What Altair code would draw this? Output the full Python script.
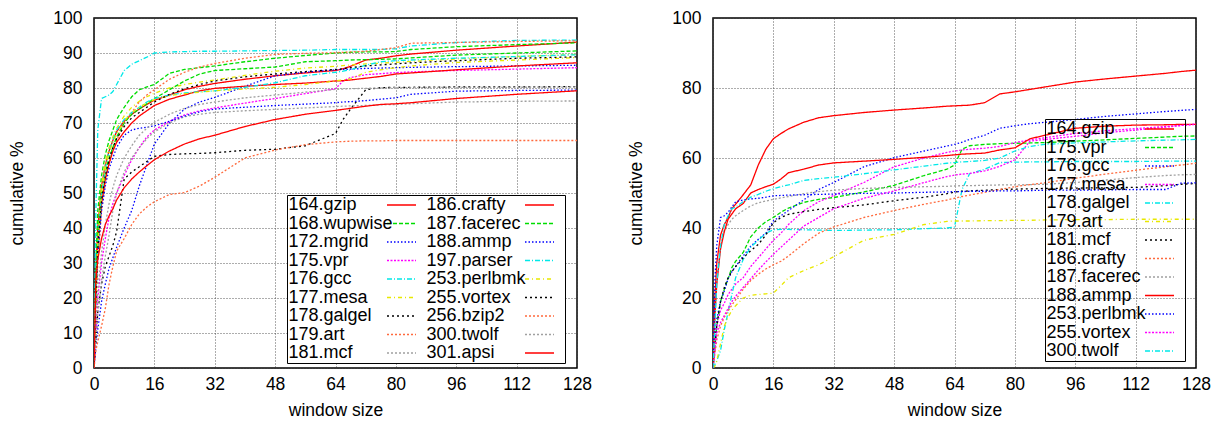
import altair as alt
import pandas as pd

# ---------------- left panel ----------------
LX = [0, 0.5, 1, 2, 3, 4, 5, 6, 8, 10, 12, 14, 16, 20, 24, 28, 32, 40, 48, 56,
      64, 66, 68, 72, 76, 80, 84, 96, 112, 128]

L_GZIP = [0, 28, 40, 52, 58, 62, 65, 67.5, 70.5, 72.5, 74, 75.3, 76.5, 78, 79.5, 80.5, 81.3, 82.5, 83.5, 84.3, 85, 85.5, 86.2, 88, 88.5, 89.2, 89.7, 90.8, 92, 93.1]
L_WUPWISE = [0, 30, 45, 55, 61, 65, 68, 71, 74.5, 77.5, 79.5, 80.3, 81, 84.2, 85.3, 85.8, 86.3, 87.5, 88.5, 89.3, 90, 90.1, 90.2, 90.3, 90.3, 90.4, 91, 91.8, 92.4, 92.9]
L_MGRID = [0, 6, 11, 19, 24, 28.5, 31.5, 34.5, 40, 45, 52, 58, 64, 70, 74, 76, 77.3, 80.5, 83.5, 84.5, 85.2, 85.3, 85.4, 85.6, 85.7, 85.8, 85.9, 86.1, 86.3, 86.5]
L_VPR = [0, 10, 20, 30, 37, 43, 47, 50, 55, 59.5, 63, 66, 68, 70.5, 72.3, 73.5, 74.3, 75.7, 77, 78.4, 79.8, 82, 83, 83.8, 84.1, 84.4, 84.6, 85, 85.4, 85.8]
L_GCC = [0, 45, 68, 77, 77.5, 78, 79, 81, 85, 86.8, 87.8, 88.8, 90, 90.3, 90.4, 90.5, 90.5, 90.6, 90.7, 90.8, 91, 91, 91, 91, 91, 91.2, 92, 93, 93.6, 93.7]
L_MESA = [0, 22, 38, 52, 59, 63, 66, 68.5, 72, 74.5, 76.2, 77.5, 78.5, 80, 81, 81.7, 82.3, 83.6, 84.8, 85.7, 86.2, 86.4, 86.6, 86.9, 87.1, 87.3, 87.6, 88.3, 89, 89.6]
L_GALGEL = [0, 8, 16, 24, 29, 32, 35, 39, 54, 56, 57.5, 59, 60.5, 61, 61.2, 61.3, 61.5, 62.2, 62.5, 63.5, 67, 71, 74, 79.5, 80.1, 80.2, 80.2, 80.3, 80.3, 80.4]
L_ART = [0, 15, 30, 45, 53, 58, 62, 65, 70, 73, 76, 78, 79.5, 82.5, 84.5, 86, 87, 88.5, 89.6, 89.9, 90.1, 90.2, 90.3, 90.5, 91, 91.5, 92.8, 93, 93.3, 93.5]
L_MCF = [0, 8, 15, 25, 32, 38, 45, 50, 56, 60, 63, 65.5, 67.5, 70, 71.8, 72.5, 73, 73.5, 73.9, 74.3, 74.7, 74.8, 74.9, 75, 75.2, 75.3, 75.5, 76, 76.2, 76.3]
L_CRAFTY = [0, 25, 36, 47, 54, 58.5, 62, 64.5, 67.5, 70, 72, 73.5, 75, 76.8, 78, 79.2, 79.9, 80.5, 81, 81.4, 82, 82.1, 82.3, 82.8, 83.3, 84, 84.3, 85.2, 86.3, 87.2]
L_FACEREC = [0, 25, 38, 50, 56, 60, 63, 66, 70, 72.5, 74, 75.5, 77, 79.5, 82, 84, 85, 85.5, 86, 87.5, 87.8, 87.9, 88, 88.1, 88.2, 88.3, 88.6, 89.4, 90, 90.6]
L_AMMP = [0, 20, 32, 45, 52, 57, 60, 63, 66.5, 68, 68.5, 68.8, 69.2, 70.5, 72, 73.2, 74, 74.5, 75, 75.4, 75.8, 76, 76.1, 76.4, 76.8, 77.2, 78.2, 79.1, 79.3, 79.4]
L_PARSER = [0, 20, 35, 50, 57, 62, 65, 68, 71, 73, 74.5, 76, 77, 78, 78.6, 78.9, 79.2, 80.2, 81.5, 83.5, 84.5, 84.8, 85.2, 86.5, 87.5, 87.8, 88, 88.5, 89, 89.5]
L_PERLBMK = [0, 20, 35, 50, 57, 61.5, 64.5, 67, 70.5, 73, 74.5, 75.7, 76.7, 77.8, 78.4, 78.8, 79.2, 79.7, 80.2, 81, 82, 82.3, 82.6, 84.5, 85.2, 85.8, 86.3, 87.3, 88, 88.7]
L_VORTEX = [0, 20, 34, 48, 55, 59.5, 63, 65.5, 69, 71.5, 73, 74.5, 76, 78.2, 79.8, 81, 82, 83.2, 84, 84.7, 85.3, 85.5, 85.8, 86.3, 86.6, 86.9, 87.2, 87.8, 88.5, 88.9]
L_BZIP2 = [0, 5, 7.5, 12, 17, 24, 29, 33.4, 37, 41, 44, 46, 47.5, 49.6, 50.1, 52, 54.5, 60, 62.3, 63.8, 64.6, 64.7, 64.8, 64.9, 64.9, 65, 65, 65, 65, 65]
L_TWOLF = [0, 12, 22, 33, 41, 47, 51.5, 55, 60, 63.5, 66.5, 68.5, 70.2, 72.5, 74.2, 75.3, 76, 77.2, 78, 78.8, 79.6, 79.7, 79.8, 79.9, 80, 80.1, 80.1, 80.2, 80.2, 80.3]
L_APSI = [0, 25, 31, 37, 41, 43.5, 45.5, 48, 51.5, 54, 56, 57.8, 59.5, 62, 64, 65.5, 66.5, 69, 71, 72.5, 73.6, 73.9, 74.2, 74.8, 75.3, 75.5, 75.8, 77, 78.2, 79.2]

LEFT_NAMES = ["164.gzip", "168.wupwise", "172.mgrid", "175.vpr", "176.gcc",
              "177.mesa", "178.galgel", "179.art", "181.mcf", "186.crafty",
              "187.facerec", "188.ammp", "197.parser", "253.perlbmk",
              "255.vortex", "256.bzip2", "300.twolf", "301.apsi"]
LEFT_SERIES = [L_GZIP, L_WUPWISE, L_MGRID, L_VPR, L_GCC, L_MESA, L_GALGEL,
               L_ART, L_MCF, L_CRAFTY, L_FACEREC, L_AMMP, L_PARSER,
               L_PERLBMK, L_VORTEX, L_BZIP2, L_TWOLF, L_APSI]

# ---------------- right panel ----------------
RX = [0, 0.5, 1, 2, 3, 4, 5, 6, 8, 10, 12, 14, 16, 18, 20, 24, 28, 32, 40, 48,
      56, 62, 64, 66, 68, 72, 76, 80, 84, 88, 96, 104, 112, 120, 124, 128]

R_GZIP = [0, 20, 30, 38, 41, 43, 45.5, 46.8, 49.5, 52.3, 58, 62.5, 65.5, 67, 68.3, 70.2, 71.5, 72.1, 73, 73.7, 74.3, 74.8, 74.9, 75, 75.1, 75.8, 78.3, 78.9, 79.6, 80.3, 81.7, 82.6, 83.4, 84.2, 84.7, 85.1]
R_VPR = [0, 6, 12, 19, 22.5, 25.5, 28.7, 30.5, 33, 37.5, 40, 41.8, 43, 44.5, 45.7, 47.3, 48.2, 48.7, 50.3, 52.2, 55, 56.8, 58, 62.5, 63.5, 63.9, 64.1, 64.2, 64.3, 64.4, 64.8, 65.2, 65.6, 66, 66.2, 66.3]
R_GCC = [0, 8, 14, 19, 22, 25.5, 27.5, 29, 32, 34.8, 36.8, 38.5, 42, 43.5, 45, 48, 51, 53, 57.5, 60.1, 62, 63.4, 63.9, 64.5, 65.3, 66.5, 68.5, 69.2, 69.8, 70.2, 71, 71.9, 72.6, 73.3, 73.6, 73.9]
R_MESA = [0, 6, 12, 16.5, 18.5, 21, 22.5, 24, 25.8, 29, 31.5, 34, 36.5, 38.5, 41, 44.9, 47.5, 49.3, 53, 57.5, 60, 61.6, 62, 62.3, 62.5, 62.8, 63.3, 64.4, 65.2, 65.8, 67, 67.8, 68.4, 69, 69.3, 69.6]
R_GALGEL = [0, 1, 2, 5, 11, 16, 21, 25.8, 31, 34.5, 36.5, 38.5, 39.5, 39.6, 39.6, 39.5, 39.4, 39.3, 39.4, 39.5, 39.8, 40, 40.3, 51, 55.5, 56.8, 58.7, 58.8, 58.9, 58.9, 59, 59, 59, 59.1, 59.1, 59.1]
R_ART = [0, 0.5, 2, 7, 12, 14.5, 16.5, 17.8, 20, 20.8, 21, 21.2, 21.4, 23.5, 25.8, 27.8, 29.5, 31.8, 36.5, 38.2, 41, 41.9, 42, 42, 42, 42.1, 42.1, 42.2, 42.2, 42.3, 42.4, 42.4, 42.5, 42.5, 42.5, 42.5]
R_MCF = [0, 6, 12, 19, 23, 25.8, 27.5, 29, 31.5, 33.5, 35.3, 38, 41.5, 43, 43.9, 44.7, 45.3, 45.8, 46.6, 47.8, 48.8, 49.8, 50.3, 50.5, 50.6, 50.8, 51, 51.1, 51.2, 51.3, 51.4, 51.5, 51.6, 52.1, 52.5, 52.7]
R_CRAFTY = [0, 4, 8, 12, 14.5, 16.3, 18, 19.5, 22.5, 25, 26.8, 28.3, 29.5, 30.5, 32, 35.5, 38.5, 40.3, 43, 45, 46.8, 48, 48.5, 49, 49.4, 50.2, 51, 51.8, 52.4, 52.9, 54.2, 55.4, 56.5, 57.5, 58, 58.5]
R_FACEREC = [0, 15, 25, 35, 39, 41, 42.5, 43.5, 45, 46.3, 47.2, 47.7, 48.2, 48.6, 49, 49.8, 50.4, 50.8, 51.3, 51.6, 51.8, 51.9, 52, 52.1, 52.1, 52.2, 52.3, 52.3, 52.4, 52.5, 53, 53.7, 54.4, 55, 55.2, 55.3]
R_AMMP = [0, 15, 24, 34, 39, 42.5, 44, 45.5, 47, 50, 51, 51.8, 52.5, 54, 55.8, 56.8, 58, 58.6, 59.1, 59.6, 60.2, 60.7, 60.9, 61.1, 61.2, 61.4, 62.3, 62.9, 65.5, 66.5, 68.5, 69.1, 69.4, 69.5, 69.6, 69.6]
R_PERLBMK = [0, 25, 35, 43, 43.5, 44.5, 46, 47.5, 48, 48.3, 48.5, 48.8, 49.2, 49.3, 49.4, 49.5, 49.6, 49.7, 49.9, 50, 50.2, 50.3, 50.4, 50.4, 50.5, 50.5, 50.6, 50.6, 50.7, 50.8, 50.8, 50.9, 51, 51, 52.8, 52.9]
R_VORTEX = [0, 5, 10, 13, 15, 17, 19, 20.5, 23, 25.5, 28, 30.3, 32.5, 34.5, 36.5, 40.5, 43, 45.5, 48.5, 50.6, 53, 54.7, 55.1, 55.4, 55.6, 56.3, 57.6, 59.5, 64.8, 65.3, 66.2, 67.2, 68, 68.8, 69.3, 69.7]
R_TWOLF = [0, 12, 24, 35, 41, 43.5, 45.5, 46, 47.5, 48.8, 49.6, 50.5, 51.2, 51.8, 52.3, 53.6, 54.1, 54.5, 55.5, 56.6, 57.7, 58.5, 58.7, 58.9, 59, 59.3, 60, 62, 63.3, 63.9, 64.3, 64.6, 64.9, 65.1, 65.2, 65.3]

RIGHT_NAMES = ["164.gzip", "175.vpr", "176.gcc", "177.mesa", "178.galgel",
               "179.art", "181.mcf", "186.crafty", "187.facerec", "188.ammp",
               "253.perlbmk", "255.vortex", "300.twolf"]
RIGHT_SERIES = [R_GZIP, R_VPR, R_GCC, R_MESA, R_GALGEL, R_ART, R_MCF,
                R_CRAFTY, R_FACEREC, R_AMMP, R_PERLBMK, R_VORTEX, R_TWOLF]

X_TICKS = [0, 16, 32, 48, 64, 80, 96, 112, 128]
Y_TICKS_LEFT = [0, 10, 20, 30, 40, 50, 60, 70, 80, 90, 100]
Y_TICKS_RIGHT = [0, 20, 40, 60, 80, 100]

# line styles (gnuplot-like)
RED, GREEN, BLUE, MAG, CYAN, YEL, BLK, ORG, GRY = (
    "#ff0000", "#00dd00", "#0000ff", "#ff00ff", "#00e8e8",
    "#e8e800", "#000000", "#ff6a3d", "#a0a0a0")
SOLID, DASH, DOTB, DOTM, DASHDOT, DASHDOTY, DOTK, DOTO, DOTG = (
    [1, 0], [4, 2], [1.5, 2], [2, 1.5], [5, 2, 1, 2], [4, 3, 1, 3],
    [2, 3], [2, 2], [2, 2])

LEFT_COLORS = [RED, GREEN, BLUE, MAG, CYAN, YEL, BLK, ORG, GRY,
               RED, GREEN, BLUE, CYAN, YEL, BLK, ORG, GRY, RED]
LEFT_DASHES = [SOLID, DASH, DOTB, DOTM, DASHDOT, DASHDOTY, DOTK, DOTO, DOTG,
               SOLID, DASH, DOTB, DASHDOT, DASHDOTY, DOTK, DOTO, DOTG, SOLID]
RIGHT_COLORS = [RED, GREEN, BLUE, MAG, CYAN, YEL, BLK, ORG, GRY,
                RED, BLUE, MAG, CYAN]
RIGHT_DASHES = [SOLID, DASH, DOTB, DOTM, DASHDOT, DASHDOTY, DOTK, DOTO, DOTG,
                SOLID, DOTB, DOTM, DASHDOT]

FONT = "Liberation Sans"


def long_table(xs, names, series):
    rows = []
    for k, (name, ys) in enumerate(zip(names, series)):
        assert len(ys) == len(xs), name
        for x, y in zip(xs, ys):
            rows.append({"bench": name, "x": x, "y": y, "k": k})
    return pd.DataFrame(rows)


def make_legend(lx, ly, cols, fill):
    kw = dict(
        title=None, orient="none", legendX=lx, legendY=ly,
        columns=cols, direction="vertical",
        symbolType="M-14.5,0H14.5M20.5,0h0", symbolSize=4,
        symbolOffset=104.5, labelOffset={"expr": "-122"},
        symbolStrokeWidth=1.6, symbolOpacity=1,
        labelFont=FONT, labelFontSize=18, labelColor="black",
        strokeColor="black", padding=1, rowPadding=0.5, columnPadding=0,
    )
    if fill:
        kw["fillColor"] = fill
    return alt.Legend(**kw)


def panel(xs, names, series, colors, dashes, yticks, legend):
    df = long_table(xs, names, series)
    return alt.Chart(df).mark_line(strokeWidth=1.3, clip=True).encode(
        x=alt.X("x:Q", scale=alt.Scale(domain=[0, 128], nice=False),
                axis=alt.Axis(values=X_TICKS, title="window size")),
        y=alt.Y("y:Q", scale=alt.Scale(domain=[0, 100], nice=False),
                axis=alt.Axis(values=yticks, title="cumulative %")),
        color=alt.Color("bench:N", scale=alt.Scale(domain=names, range=colors),
                        legend=legend),
        strokeDash=alt.StrokeDash("bench:N",
                                  scale=alt.Scale(domain=names, range=dashes),
                                  legend=legend),
        detail="bench:N",
        order="x:Q",
    ).properties(width=483, height=350)


left = panel(LX, LEFT_NAMES, LEFT_SERIES, LEFT_COLORS, LEFT_DASHES,
             Y_TICKS_LEFT, make_legend(193, 177, 2, "white"))
right = panel(RX, RIGHT_NAMES, RIGHT_SERIES, RIGHT_COLORS, RIGHT_DASHES,
              Y_TICKS_RIGHT, make_legend(332, 101, 1, None))

chart = alt.hconcat(
    left, right, spacing=34,
    padding={"left": 0, "top": 0, "right": 0, "bottom": 0},
).resolve_scale(
    color="independent", strokeDash="independent"
).resolve_legend(
    color="independent", strokeDash="independent"
).configure_view(
    stroke="black", strokeWidth=1.5
).configure_axis(
    labelFont=FONT, titleFont=FONT, labelFontSize=17.5, titleFontSize=17.5,
    titleFontWeight="normal", labelColor="black", titleColor="black",
    domain=False, ticks=False, grid=True, gridColor="#333333",
    gridDash=[1, 2], gridOpacity=0.8, labelFlush=False,
).configure_axisY(
    labelPadding=12, titlePadding=26
).configure_axisX(
    labelPadding=7, titlePadding=9
)

chart.save("out.html", embed_options={"renderer": "svg", "actions": False})
